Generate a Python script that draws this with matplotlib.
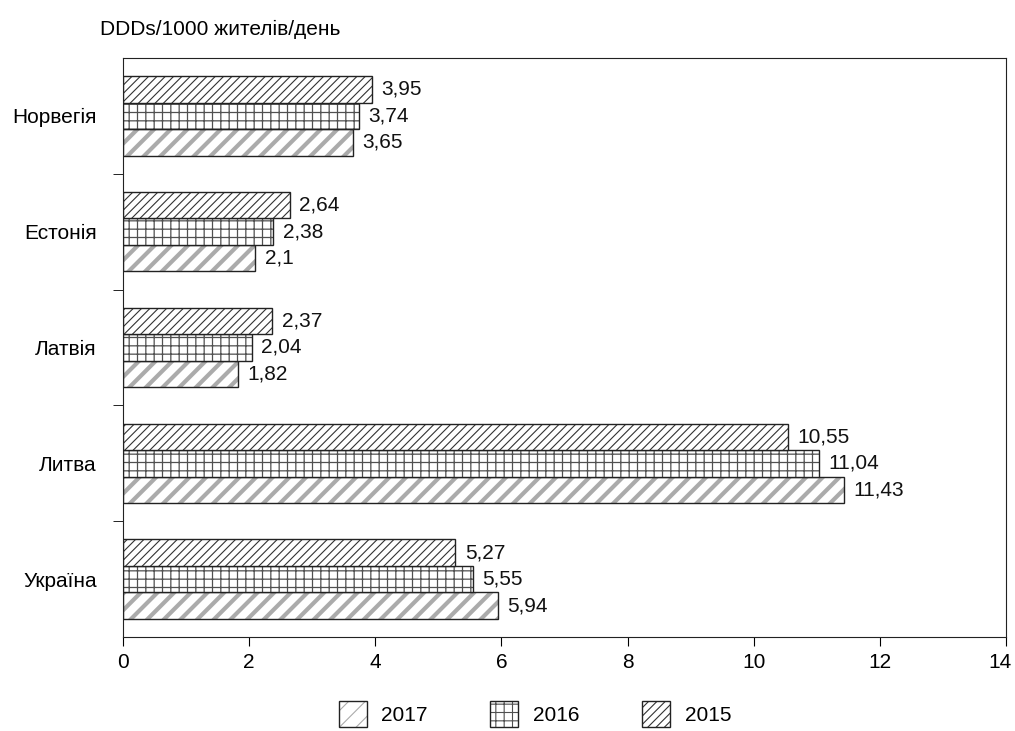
import numpy as np
import matplotlib
matplotlib.use('Agg')
import matplotlib.pyplot as plt
from matplotlib.ticker import FixedLocator
from matplotlib.patches import Patch
from matplotlib.legend_handler import HandlerTuple
from matplotlib.transforms import ScaledTranslation

countries = ['Україна', 'Литва', 'Латвія', 'Естонія', 'Норвегія']
years = ['2017', '2016', '2015']
v2017 = [5.94, 11.43, 1.82, 2.1, 3.65]
v2016 = [5.55, 11.04, 2.04, 2.38, 3.74]
v2015 = [5.27, 10.55, 2.37, 2.64, 3.95]

def fmt(v):
    return ('%g' % v).replace('.', ',')

plt.rcParams['font.family'] = ['Liberation Sans', 'DejaVu Sans']

fig = plt.figure(figsize=(10.15, 7.31), dpi=100)
ax = fig.add_axes([123/1015, 1 - 637/731, (1006-123)/1015, (637-58)/731])

# hatch style per year: (hatch, hatch colour, hatch linewidth)
styles = [('//', '#ababab', 3.0), ('++', '#505050', 0.9), ('////', '#333333', 0.8)]
vals = [v2017, v2016, v2015]
offs = [-1, 0, 1]

y = np.arange(len(countries))
h = 0.228
handles = []
for vv, (hatch, hc, hlw), o, yr in zip(vals, styles, offs, years):
    plt.rcParams['hatch.linewidth'] = hlw
    hb = ax.barh(y + o * h, vv, h, facecolor='white', edgecolor=hc, hatch=hatch, lw=0)
    ob = ax.barh(y + o * h, vv, h, facecolor='none', edgecolor='#222222', lw=1.0)
    for b, v in zip(ob, vv):
        ax.text(v + 0.15, b.get_y() + b.get_height() / 2, fmt(v),
                va='center', ha='left', fontsize=15, color='#111111')
    p1 = Patch(facecolor='white', edgecolor=hc, hatch=hatch, lw=0)
    p2 = Patch(facecolor='none', edgecolor='#222222', lw=1.0)
    handles.append((p1, p2))

ax.set_xlim(0, 14)
ax.set_ylim(-0.5, 4.5)
ax.set_xticks(range(0, 15, 2))
ax.set_yticks(y)
ax.set_yticklabels(countries)
ax.yaxis.set_minor_locator(FixedLocator([0.5, 1.5, 2.5, 3.5]))
ax.tick_params(axis='y', which='major', length=0, pad=19, labelsize=15)
ax.tick_params(axis='y', which='minor', length=7.5, direction='out')
ax.tick_params(axis='x', length=6.5, labelsize=15, pad=5)
for s in ax.spines.values():
    s.set_color('#222222')

# the last x label sits at the right edge of the figure, nudge it a bit left
lbl = ax.get_xticklabels()[-1]
lbl.set_transform(lbl.get_transform() + ScaledTranslation(-4/72, 0, fig.dpi_scale_trans))

fig.text(100/1015, 1 - 29/731, 'DDDs/1000 жителів/день', fontsize=15, va='center', ha='left')

fig.legend(handles=handles, labels=years, handler_map={tuple: HandlerTuple(ndivide=1, pad=0)},
           loc='center', bbox_to_anchor=(0.527, 1 - 714/731), ncol=3,
           frameon=False, fontsize=15, handlelength=1.35, handleheight=1.6,
           columnspacing=3.0, handletextpad=0.7, borderpad=0.2)

fig.savefig('out.png', dpi=100)
